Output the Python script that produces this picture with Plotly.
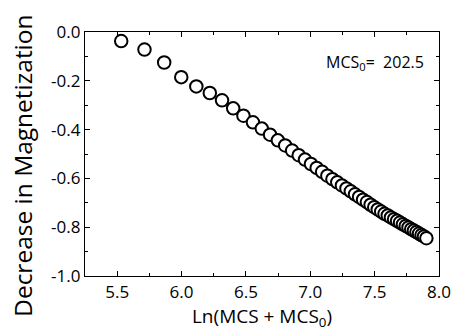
import plotly.graph_objects as go

ln_mcs = [5.5314, 5.7121, 5.8651, 5.9977, 6.1148, 6.2196, 6.3145, 6.4011, 6.4808, 6.5546,
          6.6234, 6.6877, 6.7482, 6.8052, 6.8591, 6.9103, 6.9590, 7.0054, 7.0497, 7.0922,
          7.1329, 7.1721, 7.2097, 7.2460, 7.2811, 7.3149, 7.3477, 7.3792, 7.4100, 7.4398,
          7.4687, 7.4968, 7.5242, 7.5508, 7.5768, 7.6021, 7.6267, 7.6508, 7.6743, 7.6973,
          7.7197, 7.7417, 7.7632, 7.7842, 7.8048, 7.8250, 7.8448, 7.8642, 7.8832, 7.9020]
decrease = [-0.037, -0.072, -0.125, -0.185, -0.223, -0.250, -0.280, -0.313, -0.343, -0.370,
            -0.396, -0.421, -0.444, -0.465, -0.486, -0.505, -0.523, -0.541, -0.557, -0.573,
            -0.589, -0.603, -0.616, -0.629, -0.641, -0.653, -0.665, -0.676, -0.687, -0.697,
            -0.708, -0.718, -0.727, -0.736, -0.745, -0.752, -0.760, -0.767, -0.774, -0.781,
            -0.788, -0.795, -0.801, -0.808, -0.814, -0.820, -0.826, -0.832, -0.838, -0.845]

x_ticks = [5.5, 6.0, 6.5, 7.0, 7.5, 8.0]
x_ticktext = ["5.5", "6.0", "6.5", "7.0", "7.5", "8.0"]
y_ticks = [0.0, -0.2, -0.4, -0.6, -0.8, -1.0]
y_ticktext = ["0.0", "-0.2", "-0.4", "-0.6", "-0.8", "-1.0"]

FONT = "Open Sans"

fig = go.Figure()
fig.add_trace(go.Scatter(
    x=ln_mcs, y=decrease, mode="markers",
    marker=dict(size=12.5, color="white", line=dict(color="black", width=2)),
    showlegend=False,
))

axis_common = dict(
    showline=True, linecolor="black", linewidth=1.3, mirror="ticks",
    ticks="inside", ticklen=5, tickwidth=1.2, tickcolor="black",
    showgrid=False, zeroline=False,
    tickfont=dict(family=FONT, size=17, color="black"),
)

fig.update_xaxes(
    range=[5.25, 8.0], tickvals=x_ticks, ticktext=x_ticktext,
    minor=dict(dtick=0.25, tick0=5.25, ticks="inside", ticklen=3, tickcolor="black", tickwidth=1),
    title=dict(text="Ln(MCS + MCS<sub>0</sub>)",
               font=dict(family=FONT, size=19, color="black"), standoff=5),
    **axis_common,
)
fig.update_yaxes(
    range=[-1.0, 0.0], tickvals=y_ticks, ticktext=y_ticktext,
    minor=dict(dtick=0.1, tick0=0.0, ticks="inside", ticklen=3, tickcolor="black", tickwidth=1),
    **axis_common,
)

# y-axis title (as rotated annotation so it can sit slightly below the plot centre)
fig.add_annotation(
    x=-0.176, y=0.45, xref="paper", yref="paper", xanchor="center", yanchor="middle",
    textangle=-90, showarrow=False,
    text="Decrease in Magnetization",
    font=dict(family=FONT, size=24.5, color="black"),
)

fig.add_annotation(
    x=0.676, y=0.877, xref="paper", yref="paper", xanchor="left", yanchor="middle",
    showarrow=False,
    text="MCS<sub>0</sub>=  202.5", font=dict(family=FONT, size=16, color="black"),
)

fig.update_layout(
    width=463, height=333,
    margin=dict(l=85, r=15, t=32, b=56),
    paper_bgcolor="white", plot_bgcolor="white",
)

fig.write_html("out.html")
